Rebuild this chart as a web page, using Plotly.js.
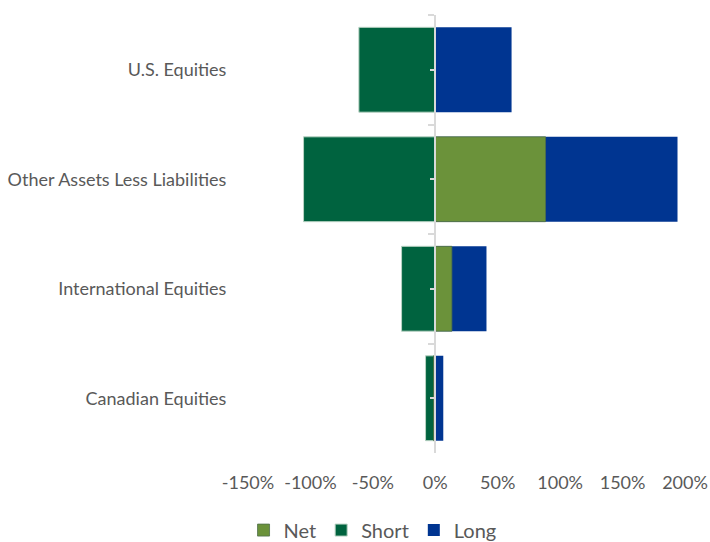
<!DOCTYPE html>
<html>
<head>
<meta charset="utf-8">
<script src="https://cdn.plot.ly/plotly-3.0.1.min.js"></script>
<style>html,body{margin:0;padding:0;background:#fff;}#chart{width:710px;height:542px;}</style>
</head>
<body>
<div id="chart"></div>
<script>
var categories = ["U.S. Equities", "Other Assets Less Liabilities", "International Equities", "Canadian Equities"];
var netValues = [0, 88.3, 13.3, -1.4];
var shortValues = [-61.2, -105.5, -27.0, -7.8];
var longValues = [61.1, 194.0, 41.0, 6.4];
var xTickVals = [-150, -100, -50, 0, 50, 100, 150, 200];
var xTickText = ["-150%", "-100%", "-50%", "0%", "50%", "100%", "150%", "200%"];

var FONT = "Lato, 'Open Sans', sans-serif";
var barW = 0.775;

var traces = [
  {type: "bar", orientation: "h", name: "Long", y: categories, x: longValues, width: barW,
   marker: {color: "#003591", line: {width: 0}}, hoverinfo: "x+name"},
  {type: "bar", orientation: "h", name: "Short", y: categories, x: shortValues, width: barW,
   marker: {color: "#00633f", line: {color: "#b9d3c4", width: 1}}, hoverinfo: "x+name"},
  {type: "bar", orientation: "h", name: "Net", y: categories, x: netValues, width: barW,
   marker: {color: "#6b923a", line: {color: "#4f6e4a", width: 0.8}}, hoverinfo: "x+name"},
  {type: "scatter", mode: "none", y: categories, x: categories.map(function(){return 0;}),
   yaxis: "y2", showlegend: false, hoverinfo: "skip"},
  {type: "scatter", mode: "none", y: categories, x: categories.map(function(){return 0;}),
   yaxis: "y3", showlegend: false, hoverinfo: "skip"}
];

var zeroPos = 150 / 350;

var layout = {
  width: 710, height: 542,
  paper_bgcolor: "#ffffff", plot_bgcolor: "#ffffff",
  margin: {l: 248, r: 25, t: 15, b: 89, autoexpand: false},
  barmode: "overlay",
  showlegend: true,
  legend: {orientation: "h", traceorder: "reversed", x: 0.285, xanchor: "center", y: -0.176, yanchor: "middle",
           font: {family: FONT, size: 20, color: "#595959"}, tracegroupgap: 0},
  xaxis: {range: [-150, 200], tickvals: xTickVals, ticktext: xTickText, showgrid: false,
          zeroline: false, showline: false, ticks: "outside", ticklen: 13, tickcolor: "rgba(0,0,0,0)",
          tickfont: {family: FONT, size: 18, color: "#595959"}, fixedrange: true},
  yaxis: {type: "category", categoryorder: "array", categoryarray: categories, range: [3.5, -0.5],
          showgrid: false, zeroline: false, showline: false, ticks: "outside", ticklen: 17,
          tickcolor: "rgba(0,0,0,0)", tickfont: {family: FONT, size: 18, color: "#595959"}},
  yaxis2: {type: "category", categoryorder: "array", categoryarray: categories, range: [3.5, -0.5],
           overlaying: "y", anchor: "free", position: zeroPos, side: "left",
           showgrid: false, zeroline: false, showline: true, linecolor: "#d9d9d9", linewidth: 2,
           ticks: "outside", tickson: "boundaries", ticklen: 6, tickwidth: 2, tickcolor: "#d9d9d9",
           showticklabels: false},
  yaxis3: {type: "category", categoryorder: "array", categoryarray: categories, range: [3.5, -0.5],
           overlaying: "y", anchor: "free", position: zeroPos, side: "left",
           showgrid: false, zeroline: false, showline: false,
           ticks: "outside", ticklen: 5, tickwidth: 2, tickcolor: "#d9d9d9",
           showticklabels: false}
};

Plotly.newPlot("chart", traces, layout, {displayModeBar: false, staticPlot: true});
</script>
</body>
</html>
